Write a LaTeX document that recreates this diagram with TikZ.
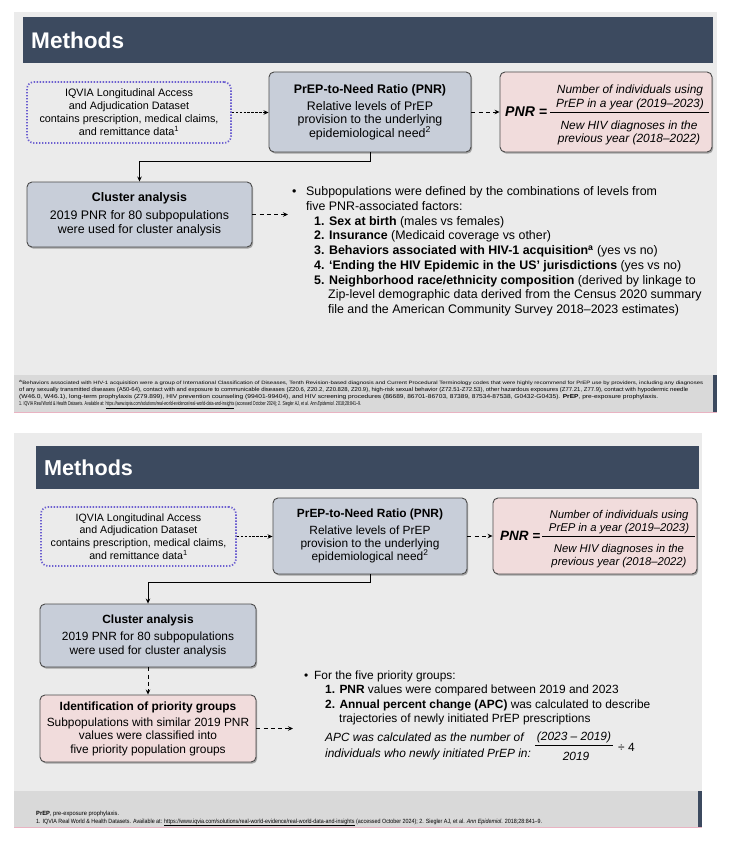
\documentclass[tikz,border=0pt]{standalone}
\usepackage{fontspec}
\setmainfont{Liberation Sans}
\usepackage{graphicx}
\usetikzlibrary{arrows.meta,shadows}

\definecolor{slidebg}{HTML}{EBEBEB}
\definecolor{navy}{HTML}{3C4A5F}
\definecolor{boxblue}{HTML}{C8CED9}
\definecolor{boxpink}{HTML}{F1DCDC}
\definecolor{dotpurple}{HTML}{6C5FD0}
\definecolor{fnband}{HTML}{D9D9D9}
\definecolor{fnline}{HTML}{E9B3C2}
\definecolor{boxline}{HTML}{4A4A4A}

\tikzset{
  slidebox/.style={draw=boxline, line width=0.9pt, rounded corners=5pt, align=center, inner sep=0pt,
    drop shadow={shadow xshift=1.2pt, shadow yshift=-1.6pt, opacity=0.3, fill=black}},
  bluebox/.style={slidebox, fill=boxblue},
  pinkbox/.style={slidebox, fill=boxpink},
  dotbox/.style={draw=dotpurple, line width=1.7pt, dash pattern=on 1.3pt off 1.7pt, rounded corners=7pt, align=center, inner sep=0pt},
  conn/.style={-{Stealth[length=5pt,width=4.5pt]}, line width=0.9pt, black},
  densedash/.style={conn, dash pattern=on 2.6pt off 1.3pt},
  widedash/.style={conn, dash pattern=on 4pt off 3.2pt},
  tl/.style={anchor=base west, inner sep=0pt},
  tc/.style={anchor=base, inner sep=0pt},
  fnote/.style={anchor=base west, inner sep=0pt, font=\fontsize{6}{7}\selectfont},
  bodyA/.style={font=\fontsize{12.4}{14}\selectfont},
  bodyB/.style={font=\fontsize{11.9}{14}\selectfont},
}

\begin{document}
\begin{tikzpicture}[x=1pt,y=-1pt]
\useasboundingbox (0,0) rectangle (735,843);
\fill[white] (0,0) rectangle (735,843);

%% ================= SLIDE 1 =================
\fill[slidebg] (14,12) rectangle (717,413);
\fill[navy] (23,17) rectangle (713,63);
\node[tl, text=white, font=\fontsize{22.6}{24}\selectfont\bfseries] (title1) at (31,48.5) {Methods};

\node[dotbox, minimum width=204pt, minimum height=61pt, font=\fontsize{10.8}{13}\selectfont] (src1) at (129,112.5)
  {IQVIA Longitudinal Access\\and Adjudication Dataset\\contains prescription, medical claims,\\and remittance data\textsuperscript{1}};
\node[bluebox, minimum width=202pt, minimum height=80pt, font=\fontsize{12.4}{13.6}\selectfont] (pnr1) at (370,112)
  {\textbf{PrEP-to-Need Ratio (PNR)}\\[3.4pt]Relative levels of PrEP\\provision to the underlying\\epidemiological need\textsuperscript{2}};
\node[pinkbox, minimum width=212pt, minimum height=80pt] (frm1) at (606,112) {};
\node[tl, font=\fontsize{14.1}{16}\selectfont\bfseries\itshape] (lab1) at (505,116.5) {PNR =};
\node[tc, font=\fontsize{11.9}{14}\selectfont\itshape] (n1a) at (630,93) {Number of individuals using};
\node[tc, font=\fontsize{11.9}{14}\selectfont\itshape] (n1b) at (630,107) {PrEP in a year (2019–2023)};
\draw[line width=0.9pt] (550,112.5) -- (709,112.5);
\node[tc, font=\fontsize{11.9}{14}\selectfont\itshape] (d1a) at (629,129) {New HIV diagnoses in the};
\node[tc, font=\fontsize{11.9}{14}\selectfont\itshape] (d1b) at (629,142.5) {previous year (2018–2022)};

\draw[densedash] (src1.east) -- (src1.east -| pnr1.west);
\draw[widedash] (pnr1.east) -- (frm1.west);

\node[bluebox, minimum width=225pt, minimum height=65pt, font=\fontsize{12.4}{14}\selectfont] (clu1) at (139.5,214.5)
  {\textbf{Cluster analysis}\\[4pt]2019 PNR for 80 subpopulations\\were used for cluster analysis};
\draw[conn] (pnr1.south) -- ++(0,9) -| (clu1.north);
\coordinate (tip1) at (288,214.5);
\draw[widedash] (clu1.east) -- (tip1);

\node[tl, bodyA] (b1dot) at (292,195.5) {•};
\node[tl, bodyA] (b1l1) at (306,195.5) {Subpopulations were defined by the combinations of levels from};
\node[tl, bodyA] (b1l2) at (306,210.25) {five PNR-associated factors:};
\node[tl, bodyA] (b1l3) at (314,225) {\textbf{1. Sex at birth} (males vs females)};
\node[tl, bodyA] (b1l4) at (314,239.75) {\textbf{2. Insurance} (Medicaid coverage vs other)};
\node[tl, bodyA] (b1l5) at (314,254.5) {\textbf{3. Behaviors associated with HIV-1 acquisition}\textsuperscript{\textbf{a}} (yes vs no)};
\node[tl, bodyA] (b1l6) at (314,269.25) {\textbf{4. ‘Ending the HIV Epidemic in the US’ jurisdictions} (yes vs no)};
\node[tl, bodyA] (b1l7) at (314,284) {\textbf{5. Neighborhood race/ethnicity composition} (derived by linkage to};
\node[tl, bodyA] (b1l8) at (328,298.75) {Zip-level demographic data derived from the Census 2020 summary};
\node[tl, bodyA] (b1l9) at (328,313.5) {file and the American Community Survey 2018–2023 estimates)};

\fill[fnband] (14,375) rectangle (717,412);
\fill[navy] (713,375) rectangle (717,412);
\fill[fnline] (14,412) rectangle (717,413.2);
\node[fnote] (f1a) at (19,384.5) {\resizebox{684pt}{4.1pt}{\textsuperscript{a}Behaviors associated with HIV-1 acquisition were a group of International Classification of Diseases, Tenth Revision-based diagnosis and Current Procedural Terminology codes that were highly recommend for PrEP use by providers, including any diagnoses}};
\node[fnote] (f1b) at (19,391.5) {\resizebox{669pt}{4.1pt}{of any sexually transmitted diseases (A50-64), contact with and exposure to communicable diseases (Z20.6, Z20.2, Z20.828, Z20.9), high-risk sexual behavior (Z72.51-Z72.53), other hazardous exposures (Z77.21, Z77.9), contact with hypodermic needle}};
\node[fnote] (f1c) at (19,398.5) {\resizebox{639pt}{4.1pt}{(W46.0, W46.1), long-term prophylaxis (Z79.899), HIV prevention counseling (99401-99404), and HIV screening procedures (86689, 86701-86703, 87389, 87534-87538, G0432-G0435). \textbf{PrEP}, pre-exposure prophylaxis.}};
\node[fnote] (f1d) at (19,405.5) {\resizebox{342pt}{4.1pt}{1. IQVIA Real World \& Health Datasets. Available at: \underline{https://www.iqvia.com/solutions/real-world-evidence/real-world-data-and-insights} (accessed October 2024); 2. Siegler AJ, et al. \textit{Ann Epidemiol}. 2018;28:841–9.}};

%% ================= SLIDE 2 =================
\fill[slidebg] (14,433) rectangle (702,827);
\fill[navy] (36,446) rectangle (699,489);
\node[tl, text=white, font=\fontsize{21.6}{24}\selectfont\bfseries] (title2) at (44,475) {Methods};

\node[dotbox, minimum width=195pt, minimum height=59pt, font=\fontsize{10.6}{12.6}\selectfont] (src2) at (138.5,536.5)
  {IQVIA Longitudinal Access\\and Adjudication Dataset\\contains prescription, medical claims,\\and remittance data\textsuperscript{1}};
\node[bluebox, minimum width=194pt, minimum height=76pt, font=\fontsize{11.9}{13}\selectfont] (pnr2) at (370,536)
  {\textbf{PrEP-to-Need Ratio (PNR)}\\[3.2pt]Relative levels of PrEP\\provision to the underlying\\epidemiological need\textsuperscript{2}};
\node[pinkbox, minimum width=204pt, minimum height=76pt] (frm2) at (595,536) {};
\node[tl, font=\fontsize{13.5}{16}\selectfont\bfseries\itshape] (lab2) at (500,540.5) {PNR =};
\node[tc, font=\fontsize{11.3}{14}\selectfont\itshape] (n2a) at (619,518) {Number of individuals using};
\node[tc, font=\fontsize{11.3}{14}\selectfont\itshape] (n2b) at (619,531.5) {PrEP in a year (2019–2023)};
\draw[line width=0.9pt] (542,536.5) -- (695,536.5);
\node[tc, font=\fontsize{11.3}{14}\selectfont\itshape] (d2a) at (619,552.5) {New HIV diagnoses in the};
\node[tc, font=\fontsize{11.3}{14}\selectfont\itshape] (d2b) at (619,565) {previous year (2018–2022)};

\draw[densedash] (src2.east) -- (src2.east -| pnr2.west);
\draw[widedash] (pnr2.east) -- (frm2.west);

\node[bluebox, minimum width=216pt, minimum height=63pt, font=\fontsize{11.9}{13.8}\selectfont] (clu2) at (148,635.5)
  {\textbf{Cluster analysis}\\[3.5pt]2019 PNR for 80 subpopulations\\were used for cluster analysis};
\draw[conn] (pnr2.south) -- ++(0,8) -| (clu2.north);

\node[pinkbox, minimum width=216pt, minimum height=67pt, font=\fontsize{11.9}{13.5}\selectfont] (id2) at (148,728.5)
  {\textbf{Identification of priority groups}\\[2.5pt]Subpopulations with similar 2019 PNR\\values were classified into\\five priority population groups};
\draw[widedash] (clu2.south) -- (id2.north);
\coordinate (tip2) at (293,728.5);
\draw[widedash] (id2.east) -- (tip2);

\node[tl, bodyB] (b2dot) at (304,679) {•};
\node[tl, bodyB] (b2l1) at (314,679) {For the five priority groups:};
\node[tl, bodyB] (b2l2) at (325,693.5) {\textbf{1. PNR} values were compared between 2019 and 2023};
\node[tl, bodyB] (b2l3) at (325,708) {\textbf{2. Annual percent change (APC)} was calculated to describe};
\node[tl, bodyB] (b2l4) at (339,722.5) {trajectories of newly initiated PrEP prescriptions};
\node[tl, bodyB, font=\fontsize{11.9}{14}\selectfont\itshape] (b2l5) at (325,741) {APC was calculated as the number of};
\node[tl, bodyB, font=\fontsize{11.9}{14}\selectfont\itshape] (b2l6) at (325,757) {individuals who newly initiated PrEP in:};
\node[tc, font=\fontsize{11.9}{14}\selectfont\itshape] (apcn) at (574,740) {(2023 – 2019)};
\draw[line width=0.8pt] (535,745) -- (613,745);
\node[tc, font=\fontsize{11.9}{14}\selectfont\itshape] (apcd) at (576,760) {2019};
\node[tl, bodyB] (apcq) at (618,751) {÷ 4};

\fill[fnband] (14,791) rectangle (702,826.5);
\fill[navy] (698,791) rectangle (702,826.5);
\fill[fnline] (14,826.5) rectangle (702,827.7);
\node[fnote] (f2a) at (36,815) {\resizebox{83pt}{4.4pt}{\textbf{PrEP}, pre-exposure prophylaxis.}};
\node[fnote] (f2b) at (36,823) {\resizebox{506pt}{4.4pt}{1. IQVIA Real World \& Health Datasets. Available at: \underline{https://www.iqvia.com/solutions/real-world-evidence/real-world-data-and-insights} (accessed October 2024); 2. Siegler AJ, et al. \textit{Ann Epidemiol}. 2018;28:841–9.}};

\end{tikzpicture}
\end{document}
